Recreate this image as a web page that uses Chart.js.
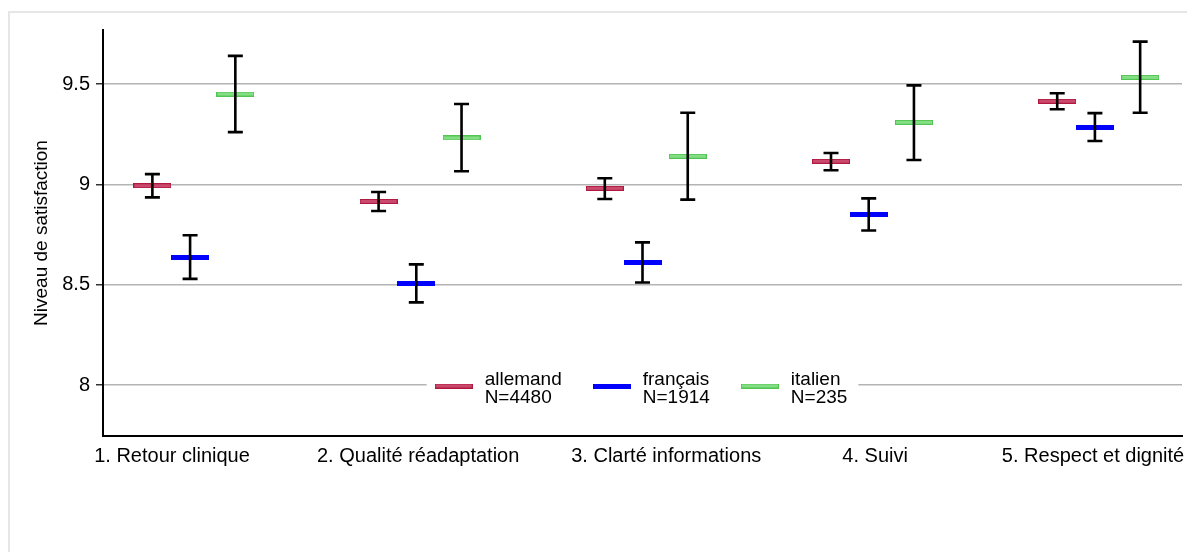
<!DOCTYPE html>
<html>
<head>
<meta charset="utf-8">
<script src="https://cdn.jsdelivr.net/npm/chart.js@4.4.1/dist/chart.umd.min.js"></script>
<style>
  html, body { margin: 0; padding: 0; background: #fff; overflow: hidden; }
  #frame { position: absolute; left: 8px; top: 11px; width: 1200px; height: 560px; border: 2px solid #e6e6e6; box-sizing: border-box; }
  #chart { position: absolute; left: 0; top: 0; }
</style>
</head>
<body>
<div id="frame"></div>
<canvas id="chart" width="1187" height="552"></canvas>
<script>
const GROUPS = ["1. Retour clinique", "2. Qualité réadaptation", "3. Clarté informations", "4. Suivi", "5. Respect et dignité"];

const allemandMean = [8.993, 8.915, 8.980, 9.115, 9.414];
const allemandLo   = [8.935, 8.867, 8.927, 9.070, 9.374];
const allemandHi   = [9.051, 8.962, 9.030, 9.156, 9.454];

const francaisMean = [8.636, 8.506, 8.611, 8.850, 9.284];
const francaisLo   = [8.529, 8.412, 8.511, 8.770, 9.216];
const francaisHi   = [8.746, 8.601, 8.711, 8.930, 9.355];

const italienMean = [9.450, 9.231, 9.140, 9.309, 9.533];
const italienLo   = [9.260, 9.065, 8.924, 9.121, 9.357];
const italienHi   = [9.640, 9.400, 9.357, 9.493, 9.711];

const SERIES_NAMES = ["allemand", "français", "italien"];
const SERIES_N = [4480, 1914, 235];
const Y_TICKS = [8, 8.5, 9, 9.5];

// layout of the x axis (in group units)
const GROUP_STEP = 6;
const SERIES_OFFSET = [0, 1, 2.2];
const LABEL_POS = [0.52, 7.05, 13.63, 19.17, 24.95];

const FONT = "'Liberation Sans', Arial, sans-serif";

function makeMarker(fill, stroke) {
  const c = document.createElement("canvas");
  c.width = 38;
  c.height = 5;
  const g = c.getContext("2d");
  g.fillStyle = stroke;
  g.fillRect(0, 0, 38, 5);
  g.fillStyle = fill;
  g.fillRect(1, 1, 36, 3);
  return c;
}

const MARKERS = [
  makeMarker("#c94a6c", "#b0183f"),
  makeMarker("#0000ff", "#0000ff"),
  makeMarker("#84de84", "#52c452"),
];

const SERIES = [
  { mean: allemandMean, lo: allemandLo, hi: allemandHi },
  { mean: francaisMean, lo: francaisLo, hi: francaisHi },
  { mean: italienMean, lo: italienLo, hi: italienHi },
];

const xPos = (g, s) => g * GROUP_STEP + SERIES_OFFSET[s];

const errorBars = {
  id: "errorBars",
  afterDatasetsDraw(chart) {
    const { ctx, scales: { x, y } } = chart;
    ctx.save();
    ctx.strokeStyle = "#000";
    ctx.lineWidth = 2.6;
    SERIES.forEach((s, si) => {
      s.lo.forEach((lo, i) => {
        const px = x.getPixelForValue(xPos(i, si));
        const top = y.getPixelForValue(s.hi[i]);
        const bot = y.getPixelForValue(lo);
        ctx.beginPath();
        ctx.moveTo(px, top); ctx.lineTo(px, bot);
        ctx.moveTo(px - 7.5, top); ctx.lineTo(px + 7.5, top);
        ctx.moveTo(px - 7.5, bot); ctx.lineTo(px + 7.5, bot);
        ctx.stroke();
      });
    });
    ctx.restore();
  },
};

const boxLegend = {
  id: "boxLegend",
  afterDraw(chart) {
    const { ctx, chartArea } = chart;
    ctx.save();
    ctx.font = `19px ${FONT}`;
    const widths = SERIES_NAMES.map((n, i) =>
      Math.max(ctx.measureText(n).width, ctx.measureText("N=" + SERIES_N[i]).width));
    const total = 8 + widths.reduce((a, w) => a + 38 + 12 + w, 0) + 31 * 2 + 11;
    const cx = (chartArea.left + chartArea.right) / 2;
    const cy = chartArea.bottom - 50.5;
    let left = cx - total / 2;
    ctx.fillStyle = "#fff";
    ctx.fillRect(left, cy - 18, total, 36);
    let xx = left + 8;
    SERIES_NAMES.forEach((n, i) => {
      ctx.drawImage(MARKERS[i], xx, cy - 2);
      ctx.fillStyle = "#000";
      ctx.textBaseline = "alphabetic";
      ctx.fillText(n, xx + 50, cy - 1);
      ctx.fillText("N=" + SERIES_N[i], xx + 50, cy + 17.5);
      xx += 50 + widths[i] + 31;
    });
    ctx.restore();
  },
};

const datasets = SERIES.map((s, si) => ({
  label: SERIES_NAMES[si],
  data: s.mean.map((v, i) => ({ x: xPos(i, si), y: v })),
  pointStyle: MARKERS[si],
  pointRadius: 19,
  pointHoverRadius: 19,
  showLine: false,
}));

new Chart(document.getElementById("chart").getContext("2d"), {
  type: "scatter",
  data: { datasets },
  plugins: [errorBars, boxLegend],
  options: {
    responsive: false,
    animation: false,
    devicePixelRatio: 1,
    layout: { autoPadding: false, padding: { top: 30, right: 5, left: 0, bottom: 0 } },
    plugins: { legend: { display: false }, tooltip: { enabled: false } },
    scales: {
      x: {
        type: "linear",
        min: -1.31,
        max: 27.31,
        afterBuildTicks: (scale) => { scale.ticks = LABEL_POS.map((v) => ({ value: v })); },
        afterFit: (scale) => {
          scale.height = 116;
          scale.paddingLeft = 0;
          scale.paddingRight = 0;
        },
        ticks: {
          autoSkip: false,
          maxRotation: 0,
          padding: 8,
          color: "#000",
          font: { family: FONT, size: 20 },
          callback: (v, i) => GROUPS[i],
        },
        grid: { display: false, drawTicks: false },
        border: { display: true, color: "#000", width: 2 },
      },
      y: {
        min: 7.746,
        max: 9.769,
        afterBuildTicks: (scale) => { scale.ticks = Y_TICKS.map((v) => ({ value: v })); },
        afterFit: (scale) => {
          scale.width = 103;
          scale.paddingTop = 0;
          scale.paddingBottom = 0;
        },
        ticks: {
          padding: 6,
          color: "#000",
          font: { family: FONT, size: 20 },
          callback: (v) => String(v),
        },
        grid: { color: "#b4b4b4", lineWidth: 1.5, drawTicks: true, tickLength: 7, tickColor: "#333", tickWidth: 1.5 },
        border: { display: true, color: "#000", width: 2 },
        title: {
          display: true,
          text: "Niveau de satisfaction",
          color: "#000",
          font: { family: FONT, size: 19 },
          padding: { top: 30, bottom: 0 },
        },
      },
    },
  },
});
</script>
</body>
</html>
